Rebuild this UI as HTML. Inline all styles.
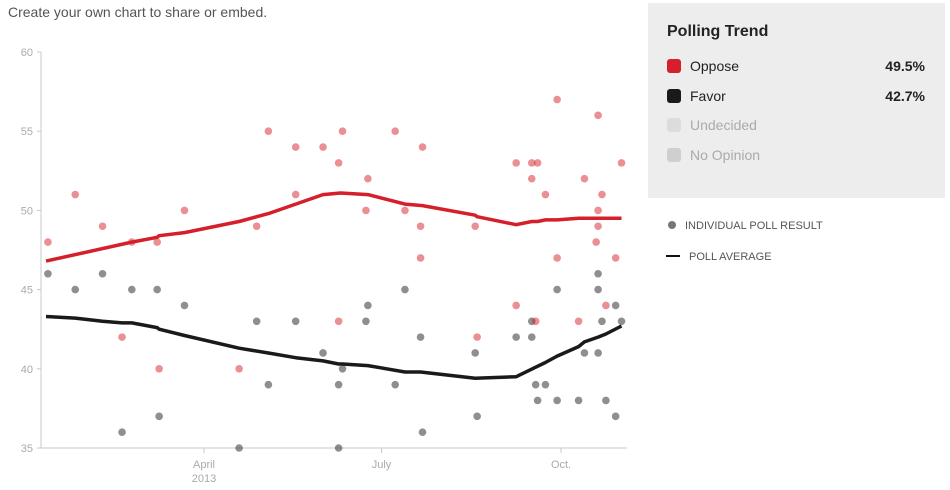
<!DOCTYPE html>
<html><head><meta charset="utf-8"><style>
body{margin:0;width:950px;height:490px;background:#fff;font-family:"Liberation Sans",sans-serif;overflow:hidden;position:relative}
.hdr{position:absolute;left:8px;top:4px;font-size:14px;color:#555}
.panel{position:absolute;left:648px;top:3px;width:297px;height:195px;background:#ededed}
.ttl{position:absolute;left:19px;top:20px;font-size:16px;font-weight:bold;color:#222}
.row{position:absolute;left:19px;font-size:14px;color:#222;width:256px}
.sw{display:inline-block;width:14px;height:14px;border-radius:3px;vertical-align:-2px;margin-right:9px}
.val{position:absolute;right:-2px;top:0;font-weight:bold}
.leg2{position:absolute;font-size:11px;color:#555}
</style></head><body>
<div class="hdr">Create your own chart to share or embed.</div>
<div class="panel">
<div class="ttl">Polling Trend</div>
<div class="row" style="top:55px"><span class="sw" style="background:#d51f2a"></span>Oppose<span class="val">49.5%</span></div>
<div class="row" style="top:85px"><span class="sw" style="background:#1a1a1a"></span>Favor<span class="val">42.7%</span></div>
<div class="row" style="top:114px;color:#aaa"><span class="sw" style="background:#dcdcdc"></span>Undecided</div>
<div class="row" style="top:144px;color:#aaa"><span class="sw" style="background:#cfcfcf"></span>No Opinion</div>
</div>
<div class="leg2" style="left:666px;top:220px"><span style="display:inline-block;width:8px;height:8px;border-radius:50%;background:#777;margin-right:9px;margin-left:2px"></span>INDIVIDUAL POLL RESULT</div>
<div class="leg2" style="left:666px;top:251px"><span style="display:inline-block;width:14px;height:2px;background:#111;margin-right:9px;vertical-align:3px"></span>POLL AVERAGE</div>
<svg id="chart" width="950" height="490" style="position:absolute;left:0;top:0"></svg>
<script>
const yTicks=[35,40,45,50,55,60];
const xTickDays=[90,181,273];
const xTickLabels=["April","July","Oct."];
const opposeDays=[10,24,38,48,53,66,67,80,108,117,123,137,137,151,159,161,159,173,174,188,193,201,201,202,229,230,250,250,258,258,261,260,265,271,271,282,285,292,294,292,292,291,296,301,304];
const opposeVals=[48,51,49,42,48,48,40,50,40,49,55,54,51,54,53,55,43,50,52,55,50,49,47,54,49,42,53,44,53,52,53,43,51,57,47,43,52,56,51,50,49,48,44,47,53];
const favorDays=[10,24,38,48,53,66,67,80,108,117,123,137,151,159,159,161,173,174,188,193,201,202,229,230,250,258,258,260,261,265,271,271,282,285,292,292,294,292,296,301,301,304];
const favorVals=[46,45,46,36,45,45,37,44,35,43,39,43,41,39,35,40,43,44,39,45,42,36,41,37,42,43,42,39,38,39,45,38,38,41,46,45,43,41,38,44,37,43];
const opposeAvgDays=[9,53,66,67,80,108,123,137,151,160,174,193,202,229,230,250,258,261,265,271,282,292,304];
const opposeAvg=[46.8,48,48.3,48.4,48.6,49.3,49.8,50.4,51,51.1,51,50.4,50.3,49.7,49.6,49.1,49.3,49.3,49.4,49.4,49.5,49.5,49.5];
const favorAvgDays=[9,24,38,48,53,66,67,80,108,123,137,151,159,161,174,193,201,229,250,260,265,271,282,285,292,296,304];
const favorAvg=[43.3,43.2,43,42.9,42.9,42.6,42.5,42.1,41.3,41,40.7,40.5,40.3,40.3,40.2,39.8,39.8,39.4,39.5,40.1,40.4,40.8,41.4,41.7,42,42.2,42.7];
const svg=document.getElementById('chart');const NS='http://www.w3.org/2000/svg';
function x(d){return 204+(d-90)*1.951;}
function y(v){return 448-(v-35)*15.84;}
function mk(t,a){const e=document.createElementNS(NS,t);for(const k in a)e.setAttribute(k,a[k]);svg.appendChild(e);return e;}
let e=mk('line',{x1:41,y1:52,x2:41,y2:448,stroke:'#c4c8cc'});


e=mk('line',{x1:41,y1:448,x2:627,y2:448,stroke:'#c4c8cc'});


yTicks.forEach(v=>{mk('line',{x1:37,x2:41,y1:y(v),y2:y(v),stroke:'#c4c8cc'});
const t=mk('text',{x:33,y:y(v)+4,'text-anchor':'end','font-size':11,fill:'#aaa','font-family':'Liberation Sans'});t.textContent=v;

});
xTickDays.forEach((d,i)=>{mk('line',{x1:x(d),x2:x(d),y1:448,y2:453,stroke:'#c4c8cc'});
const t=mk('text',{x:x(d),y:468,'text-anchor':'middle','font-size':11,fill:'#aaa','font-family':'Liberation Sans'});t.textContent=xTickLabels[i];


if(i==0){const t2=mk('text',{x:x(d),y:482,'text-anchor':'middle','font-size':11,fill:'#aaa','font-family':'Liberation Sans'});t2.textContent='2013';

}});
favorDays.forEach((d,i)=>{const c=mk('circle',{cx:x(d),cy:y(favorVals[i]),r:3.8,fill:'#333','fill-opacity':0.55});

});
opposeDays.forEach((d,i)=>{const c=mk('circle',{cx:x(d),cy:y(opposeVals[i]),r:3.8,fill:'#d51f2a','fill-opacity':0.5});

});
function line(ds,vs,col,name){const p=ds.map((d,i)=>(i?'L':'M')+x(d).toFixed(1)+','+y(vs[i]).toFixed(1)).join('');
const l=mk('path',{d:p,fill:'none',stroke:col,'stroke-width':3.5,'stroke-linejoin':'round'});

}
line(opposeAvgDays,opposeAvg,'#d51f2a','oppose-average-line');
line(favorAvgDays,favorAvg,'#1a1a1a','favor-average-line');
</script>
</body></html>
